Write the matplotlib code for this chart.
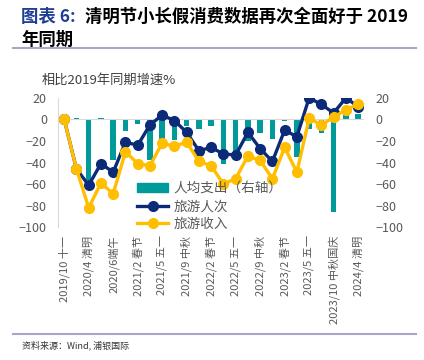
import matplotlib
matplotlib.use("Agg")
import matplotlib.pyplot as plt
from matplotlib.lines import Line2D
from matplotlib.patches import Patch
import numpy as np

plt.rcParams["font.family"] = ["Noto Sans CJK SC", "DejaVu Sans"]

# holiday periods (every other one is labelled on the axis)
periods = [
    "2019/10 十一", "2020/1 春节", "2020/4 清明", "2020/5 五一", "2020/6端午",
    "2020/10 中秋国庆", "2021/2 春节", "2021/4 清明", "2021/5 五一", "2021/6 端午",
    "2021/9 中秋", "2021/10 十一", "2022/2 春节", "2022/4 清明", "2022/5 五一",
    "2022/6 端午", "2022/9 中秋", "2022/10 十一", "2023/2 春节", "2023/4 清明",
    "2023/5 五一", "2023/6 端午", "2023/10 中秋国庆", "2024/2 春节", "2024/4 清明",
]
# growth vs same period of 2019, %
spend_per_capita = [0, 1, -56, 1, -38, -11, -4, -38, -18, -19, -6, -9, -6,
                    -41, -38, -20, -13, -18, -1, -35, -9, -13, -86, 4, 5]
trips = [0, -46, -61, -41, -49, -21, -24, -5, 4, -1, -12, -29, -26,
         -32, -33, -12, -27, -39, -10, -16, 20, 14, 6, 20, 12]
revenue = [0, -46, -82, -59, -69, -30, -41, -43, -22, -25, -21, -39, -43,
           -60, -55, -34, -38, -55, -26, -49, 1, -5, 2, 9, 14]

teal = "#009a9a"
navy = "#0b2a78"
gold = "#ffbf00"
grey = "#595959"

fig = plt.figure(figsize=(4.24, 3.6), dpi=100)
ax = fig.add_axes([0.137, 0.369, 0.722, 0.359])
ax2 = ax.twinx()

x = np.arange(len(periods))
ax2.bar(x, spend_per_capita, width=0.45, color=teal, zorder=2)
ax.plot(x, trips, color=navy, lw=2.4, marker="o", ms=7, zorder=4)
ax.plot(x, revenue, color=gold, lw=2.4, marker="o", ms=7, zorder=5)

ax.set_zorder(ax2.get_zorder() + 1)
ax.patch.set_visible(False)

for a in (ax, ax2):
    a.set_ylim(-100, 20)
    a.set_yticks(np.arange(-100, 21, 20))
    a.set_xlim(-0.5, len(periods) - 0.5)
    for s in a.spines.values():
        s.set_visible(False)
    a.tick_params(length=0, labelsize=9, labelcolor=grey)

ax.spines["left"].set_visible(True)
ax.spines["left"].set_color("#d9d9d9")
ax.axhline(0, color="#d9d9d9", lw=0.8, zorder=1)
ax.tick_params(axis="y", pad=8)
ax2.tick_params(axis="y", pad=8)

ax.set_xticks(x[::2])
ax.set_xticklabels(periods[::2], rotation=90, fontsize=8, color=grey)
ax.tick_params(axis="x", pad=6)

fig.text(0.098, 0.768, "相比2019年同期增速%", fontsize=9.5, color="#404040")

handles = [
    Patch(color=teal),
    Line2D([], [], color=navy, lw=2.4, marker="o", ms=7),
    Line2D([], [], color=gold, lw=2.4, marker="o", ms=7),
]
labels = ["人均支出（右轴）", "旅游人次", "旅游收入"]
fig.legend(handles, labels, loc="upper left", bbox_to_anchor=(0.323, 0.496),
           frameon=False, fontsize=9.8, labelcolor=grey, handlelength=2.3,
           handleheight=0.65, labelspacing=0.28, handletextpad=0.4,
           borderaxespad=0, borderpad=0)

# title block
fig.text(0.05, 0.953, "图表 6:", fontsize=12.5, fontweight="bold",
         color="#1f3f94", va="center")
fig.text(0.2, 0.953, "清明节小长假消费数据再次全面好于 2019", fontsize=12.5,
         fontweight="bold", color="black", va="center")
fig.text(0.05, 0.89, "年同期", fontsize=12.5, fontweight="bold",
         color="black", va="center")
fig.add_artist(Line2D([0.03, 0.98], [0.866, 0.866], color="#a9a4cc", lw=1.5,
                      transform=fig.transFigure))
fig.add_artist(Line2D([0.03, 0.98], [0.072, 0.072], color="#a9a4cc", lw=1.5,
                      transform=fig.transFigure))
fig.text(0.052, 0.04, "资料来源：Wind, 浦银国际", fontsize=6.5, color="#333333",
         va="center")

fig.savefig("out.png", dpi=100)
